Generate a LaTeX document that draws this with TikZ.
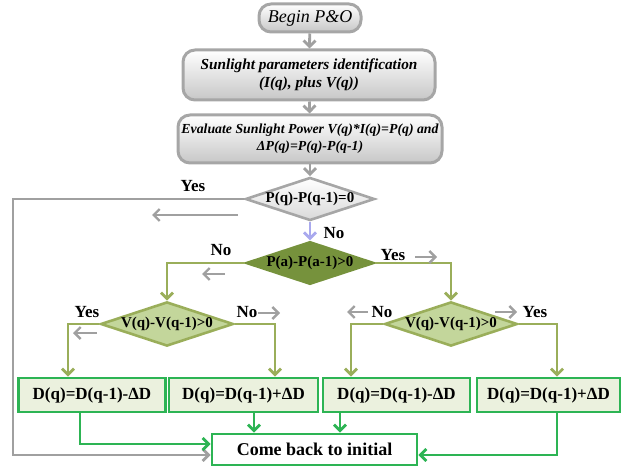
\documentclass[tikz,border=0pt]{standalone}
\usepackage{fontspec}
\setmainfont{Liberation Serif}
\usepackage{tikz}
\usetikzlibrary{shapes.geometric,arrows.meta,calc}
\definecolor{boxgray}{HTML}{A6A6A6}
\definecolor{linegray}{HTML}{A0A0A0}
\definecolor{olive}{HTML}{9AAE5A}
\definecolor{darkolive}{HTML}{76923C}
\definecolor{lightolive}{HTML}{C3D69B}
\definecolor{boxgreen}{HTML}{2DB454}
\definecolor{palegreen}{HTML}{EBF1DE}
\definecolor{lavender}{HTML}{A9A9EE}
\newcommand{\fs}[1]{\fontsize{#1}{#1}\selectfont}
\tikzset{
  >={Straight Barb[length=6pt,width=12pt]},
  startbox/.style={draw=boxgray, line width=3pt, rounded corners=12pt,
    top color=white, bottom color=black!22, align=center, inner sep=0pt},
  decision/.style={diamond, aspect=3, inner sep=0pt, minimum width=125pt,
    minimum height=42pt, line width=2.6pt, font=\bfseries\fs{15}},
  dbox/.style={draw=boxgreen, fill=palegreen, line width=2.6pt,
    minimum width=147pt, minimum height=34pt, font=\bfseries\fs{17}},
  lbl/.style={font=\bfseries\fs{17}},
  grayline/.style={draw=linegray, line width=2.8pt},
  oliveline/.style={draw=olive, line width=2.8pt},
  greenline/.style={draw=boxgreen, line width=2.8pt},
}

\begin{document}
\begin{tikzpicture}[x=1pt, y=-1pt]
\useasboundingbox (0,0) rectangle (623,470);

% top part
\node[startbox, minimum width=102pt, minimum height=28pt, font=\itshape\fs{18}] (begin) at (310,18) {Begin P\&O};
\node[startbox, minimum width=252pt, minimum height=50pt, font=\bfseries\itshape\fs{15.3}] (ident) at (309,75)
  {Sunlight parameters identification\\[3pt](I(q), plus V(q))};
\node[startbox, minimum width=264pt, minimum height=48pt, font=\bfseries\itshape\fs{13.8}] (eval) at (310,139)
  {Evaluate Sunlight Power V(q)*I(q)=P(q) and\\[3pt]ΔP(q)=P(q)-P(q-1)};

% decisions
\node[decision, draw=boxgray, top color=white, bottom color=black!15] (d1) at (310,199) {P(q)-P(q-1)=0};
\node[decision, draw=darkolive, fill=darkolive] (d2) at (310,263) {P(a)-P(a-1)>0};
\node[decision, draw=olive, fill=lightolive] (d3) at (167,324) {V(q)-V(q-1)>0};
\node[decision, draw=olive, fill=lightolive] (d4) at (451,324) {V(q)-V(q-1)>0};

% duty updates
\node[dbox] (dq1) at (92,395) {D(q)=D(q-1)-ΔD};
\node[dbox, minimum width=149pt] (dq2) at (243.5,395) {D(q)=D(q-1)+ΔD};
\node[dbox] (dq3) at (396.5,395) {D(q)=D(q-1)-ΔD};
\node[dbox, minimum width=143pt] (dq4) at (548.5,395) {D(q)=D(q-1)+ΔD};

\node[draw=boxgreen, fill=white, line width=2.6pt, minimum width=205pt, minimum height=31pt,
  font=\bfseries\fs{18}] (back) at (314.5,449.5) {Come back to initial};

% labels
\node[lbl] (yes1) at (193,186) {Yes};
\node[lbl] (no1) at (334,233) {No};
\node[lbl] (no2) at (221,250) {No};
\node[lbl] (yes2) at (393,255) {Yes};
\node[lbl] (yes3) at (87,312) {Yes};
\node[lbl] (no3) at (247,312) {No};
\node[lbl] (no4) at (382,312) {No};
\node[lbl] (yes4) at (535,312) {Yes};

% main flow
\draw[grayline, ->] (begin) -- (ident);
\draw[grayline, ->] (ident) -- (eval);
\draw[grayline, ->] (eval) -- (d1);
\draw[draw=lavender, line width=2.8pt, ->] (d1) -- (d2);
\coordinate (loop) at (13,199);
\draw[grayline, ->] (d1.west) -- (loop) |- ([yshift=-5.5pt]back.west);

\draw[oliveline, ->] (d2.west) -| (d3.north);
\draw[oliveline, ->] (d2.east) -| (d4.north);
\draw[oliveline, ->] (d3.west) -| ([xshift=-24pt]dq1.north);
\draw[oliveline, ->] (d3.east) -| ([xshift=31.5pt]dq2.north);
\draw[oliveline, ->] (d4.west) -| ([xshift=-45.5pt]dq3.north);
\draw[oliveline, ->] (d4.east) -| ([xshift=8.5pt]dq4.north);

\draw[greenline, ->] ([xshift=-12pt]dq1.south) |- ([yshift=5.5pt]back.west);
\draw[greenline, ->] ([xshift=10.5pt]dq2.south) -- ([xshift=10.5pt]dq2.south |- back.north);
\draw[greenline, ->] ([xshift=-56.5pt]dq3.south) -- ([xshift=-56.5pt]dq3.south |- back.north);
\draw[greenline, ->] ([xshift=8.5pt]dq4.south) |- ([yshift=-5.5pt]back.east);

% direction hints
\foreach \s/\e/\y [count=\i] in {238/152/215, 225/202/274, 415/437/257, 97/73/333,
    258/280/313, 368/347/312, 495/517/312} {
  \coordinate (h\i a) at (\s,\y);
  \coordinate (h\i b) at (\e,\y);
  \draw[grayline, line width=2.4pt, ->] (h\i a) -- (h\i b);
}
\end{tikzpicture}
\end{document}
